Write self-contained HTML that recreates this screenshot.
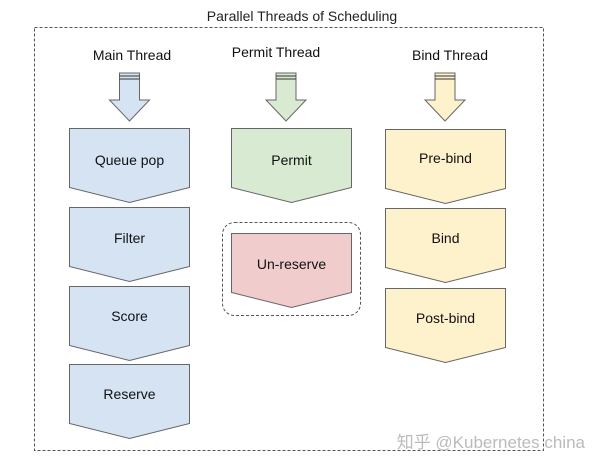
<!DOCTYPE html>
<html><head><meta charset="utf-8"><style>
html,body{margin:0;padding:0;background:#fff;}
svg{display:block;font-family:"Liberation Sans",Arial,sans-serif;}
</style></head><body>
<svg width="600" height="468" viewBox="0 0 600 468" xmlns="http://www.w3.org/2000/svg">
<rect x="34.5" y="27.5" width="509" height="423" fill="none" stroke="#555" stroke-width="1" stroke-dasharray="3,2"/>
<text x="302" y="21" font-size="14" text-anchor="middle" fill="#222">Parallel Threads of Scheduling</text>
<text x="132" y="60" font-size="14" text-anchor="middle" fill="#111">Main Thread</text>
<text x="276" y="57" font-size="14" text-anchor="middle" fill="#111">Permit Thread</text>
<text x="450" y="60" font-size="14" text-anchor="middle" fill="#111">Bind Thread</text>
<defs>
<g id="arr">
<path d="M-10,0 L10,0 L10,27 L20,27 L0,48 L-20,27 L-10,27 Z" stroke="#666" stroke-width="1"/>
<line x1="-10" y1="3" x2="10" y2="3" stroke="#333" stroke-width="1"/>
<line x1="-10" y1="6" x2="10" y2="6" stroke="#333" stroke-width="1"/>
</g>
<path id="pent" d="M0,0 L120,0 L120,59 L60,74 L0,59 Z"/>
</defs>
<use href="#arr" x="129.5" y="73" fill="#d5e3f3"/>
<use href="#arr" x="286" y="73" fill="#d9ead3"/>
<use href="#arr" x="445" y="73" fill="#fdf2cc"/>
<g stroke="#666" stroke-width="1">
<use href="#pent" x="69.5" y="128.5" fill="#d5e3f3"/>
<use href="#pent" x="69.5" y="207.5" fill="#d5e3f3"/>
<use href="#pent" x="69.5" y="286.5" fill="#d5e3f3"/>
<use href="#pent" x="69.5" y="364.5" fill="#d5e3f3"/>
<use href="#pent" x="231.5" y="128.5" fill="#d9ead3"/>
<use href="#pent" x="231.5" y="233.5" fill="#f0cccc"/>
<use href="#pent" x="385.5" y="129.5" fill="#fdf2cc"/>
<use href="#pent" x="385.5" y="208.5" fill="#fdf2cc"/>
<use href="#pent" x="385.5" y="288.5" fill="#fdf2cc"/>
</g>
<rect x="222.5" y="222.5" width="138" height="93" rx="12" fill="none" stroke="#555" stroke-dasharray="3,2"/>
<g font-size="14" text-anchor="middle" fill="#111">
<text x="129.5" y="165">Queue pop</text>
<text x="129.5" y="243">Filter</text>
<text x="129.5" y="321">Score</text>
<text x="129.5" y="399">Reserve</text>
<text x="291.5" y="165">Permit</text>
<text x="291.5" y="269">Un-reserve</text>
<text x="445.5" y="163">Pre-bind</text>
<text x="445.5" y="243">Bind</text>
<text x="445.5" y="323">Post-bind</text>
</g>
<text x="585" y="448" font-size="17" text-anchor="end" fill="#bbb" font-family="'Liberation Sans','Noto Sans CJK SC',sans-serif">知乎 @Kubernetes china</text>
</svg>
</body></html>
